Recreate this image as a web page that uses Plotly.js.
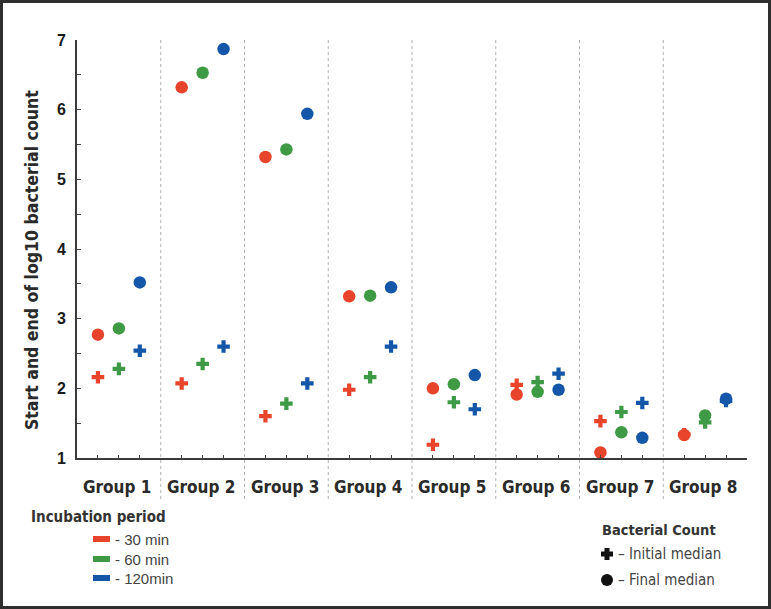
<!DOCTYPE html>
<html>
<head>
<meta charset="utf-8">
<script src="https://cdn.plot.ly/plotly-3.0.1.min.js"></script>
<style>
  html, body { margin: 0; padding: 0; background: #fff; }
  #wrap { position: relative; width: 771px; height: 609px; }
  #chart { width: 771px; height: 609px; }
  #frame { position: absolute; left: 0; top: 0; width: 771px; height: 609px; box-sizing: border-box; border: 3px solid #2e2e2e; pointer-events: none; }
</style>
</head>
<body>
<div id="wrap"><div id="chart"></div><div id="frame"></div></div>
<script>
// ---- data ----
const groups = ['Group 1', 'Group 2', 'Group 3', 'Group 4', 'Group 5', 'Group 6', 'Group 7', 'Group 8'];
const periods = ['30 min', '60 min', '120min'];
const periodColors = ['#e8432b', '#3e9a45', '#1456a8'];
const initial30  = [2.16, 2.07, 1.60, 1.98, 1.19, 2.05, 1.53, 1.34];
const initial60  = [2.28, 2.35, 1.78, 2.16, 1.80, 2.09, 1.66, 1.51];
const initial120 = [2.54, 2.60, 2.07, 2.60, 1.70, 2.21, 1.79, 1.82];
const final30    = [2.77, 6.32, 5.32, 3.32, 2.00, 1.91, 1.08, 1.33];
const final60    = [2.86, 6.53, 5.43, 3.33, 2.06, 1.95, 1.37, 1.61];
const final120   = [3.52, 6.87, 5.94, 3.45, 2.19, 1.98, 1.29, 1.85];
const yTicks = [1, 2, 3, 4, 5, 6, 7];

const initialSeries = [initial30, initial60, initial120];
const finalSeries = [final30, final60, final120];

// ---- geometry ----
const W = 771, H = 609;
const M = { l: 77, r: 24, t: 40, b: 151 };
const PW = W - M.l - M.r, PH = H - M.t - M.b;
const px = x => (x - M.l) / PW;
const py = y => (H - M.b - y) / PH;
const offsets = [-0.25, 0, 0.25];

const condBold = '"DejaVu Sans Condensed", "Liberation Sans Narrow", "Roboto Condensed", Roboto, sans-serif';
const cond = '"DejaVu Sans Condensed", "Liberation Sans Narrow", "Roboto Condensed", Roboto, sans-serif';

const traces = [];
// initial medians (crosses)
initialSeries.forEach((vals, k) => {
  traces.push({
    type: 'scatter', mode: 'markers',
    x: groups.map((g, i) => i + 1 + offsets[k]), y: vals,
    marker: { symbol: 'cross', size: 10.5, color: periodColors[k], line: { width: 0 } },
    name: 'Initial ' + periods[k], showlegend: false, hoverinfo: 'y'
  });
});
// final medians (circles)
finalSeries.forEach((vals, k) => {
  traces.push({
    type: 'scatter', mode: 'markers',
    x: groups.map((g, i) => i + 1 + offsets[k]), y: vals,
    marker: { symbol: 'circle', size: 12.5, color: periodColors[k], line: { width: 0 } },
    name: 'Final ' + periods[k], showlegend: false, hoverinfo: 'y'
  });
});

const tickPositions = [];
groups.forEach((g, i) => offsets.forEach(o => tickPositions.push(i + 1 + o)));

const shapes = [];
for (let i = 1; i < groups.length; i++) {
  shapes.push({ type: 'line', xref: 'x', yref: 'paper', x0: i + 0.5, x1: i + 0.5,
    y0: py(499), y1: py(37), line: { color: '#b0b0b0', width: 1, dash: 'dot' } });
}
// incubation period swatches
const swY = [539, 559, 578];
periodColors.forEach((c, k) => {
  shapes.push({ type: 'rect', xref: 'paper', yref: 'paper', x0: px(93), x1: px(110),
    y0: py(swY[k] + 3), y1: py(swY[k] - 3), fillcolor: c, line: { width: 0 } });
});
// bacterial count legend markers
shapes.push({ type: 'path', xref: 'paper', yref: 'paper', xsizemode: 'pixel', ysizemode: 'pixel',
  xanchor: px(607), yanchor: py(554),
  path: 'M -2.5 -6 L 2.5 -6 L 2.5 -2.5 L 6 -2.5 L 6 2.5 L 2.5 2.5 L 2.5 6 L -2.5 6 L -2.5 2.5 L -6 2.5 L -6 -2.5 L -2.5 -2.5 Z',
  fillcolor: '#111', line: { width: 0 } });
shapes.push({ type: 'circle', xref: 'paper', yref: 'paper', xsizemode: 'pixel', ysizemode: 'pixel',
  xanchor: px(607), yanchor: py(580), x0: -6, x1: 6, y0: -6, y1: 6,
  fillcolor: '#111', line: { width: 0 } });

const annotations = [];
groups.forEach((g, i) => {
  annotations.push({ xref: 'x', yref: 'paper', x: i + 1 - 0.02, y: py(487), text: '<b>' + g + '</b>',
    showarrow: false, xanchor: 'center', yanchor: 'middle',
    font: { family: condBold, size: 17, color: '#2a2a2a' } });
});
annotations.push({ xref: 'paper', yref: 'paper', x: px(32), y: py(260), textangle: -90,
  text: '<b>Start and end of log10 bacterial count</b>', showarrow: false,
  xanchor: 'center', yanchor: 'middle', font: { family: condBold, size: 17.5, color: '#2a2a2a' } });
annotations.push({ xref: 'paper', yref: 'paper', x: px(29), y: py(517), text: '<b>Incubation period</b>',
  showarrow: false, xanchor: 'left', yanchor: 'middle', font: { family: condBold, size: 15, color: '#333' } });
periods.forEach((p, k) => {
  annotations.push({ xref: 'paper', yref: 'paper', x: px(113), y: py(swY[k]), text: '- ' + p,
    showarrow: false, xanchor: 'left', yanchor: 'middle',
    font: { family: '"Liberation Sans", Arial, sans-serif', size: 15, color: '#444' } });
});
annotations.push({ xref: 'paper', yref: 'paper', x: px(600), y: py(530), text: '<b>Bacterial Count</b>',
  showarrow: false, xanchor: 'left', yanchor: 'middle', font: { family: condBold, size: 14.5, color: '#333' } });
annotations.push({ xref: 'paper', yref: 'paper', x: px(616), y: py(554), text: '– Initial median',
  showarrow: false, xanchor: 'left', yanchor: 'middle', font: { family: cond, size: 15, color: '#444' } });
annotations.push({ xref: 'paper', yref: 'paper', x: px(616), y: py(580), text: '– Final median',
  showarrow: false, xanchor: 'left', yanchor: 'middle', font: { family: cond, size: 15, color: '#444' } });

const layout = {
  width: W, height: H,
  margin: { l: M.l, r: M.r, t: M.t, b: M.b, pad: 0 },
  paper_bgcolor: '#fff', plot_bgcolor: '#fff',
  showlegend: false,
  xaxis: {
    range: [0.5, groups.length + 0.5], tickmode: 'array', tickvals: tickPositions,
    ticktext: tickPositions.map(() => ''), ticks: 'inside', ticklen: 3, tickcolor: '#444', tickwidth: 1,
    showgrid: false, zeroline: false, showline: true, linecolor: '#3a3a3a', linewidth: 2
  },
  yaxis: {
    range: [1, 7], tickmode: 'array', tickvals: yTicks, ticktext: yTicks.map(String),
    ticks: 'inside', ticklen: 4, tickcolor: '#444', tickwidth: 1,
    minor: { dtick: 0.5, ticks: 'inside', ticklen: 4, tickcolor: '#444', showgrid: false },
    tickfont: { family: '"Liberation Sans", Arial, sans-serif', size: 16, color: '#1a1a1a', weight: 'bold' },
    ticklabelstandoff: 6,
    showgrid: false, zeroline: false, showline: true, linecolor: '#3a3a3a', linewidth: 2
  },
  shapes: shapes,
  annotations: annotations
};

Plotly.newPlot('chart', traces, layout, { displayModeBar: false, staticPlot: true });
</script>
</body>
</html>
